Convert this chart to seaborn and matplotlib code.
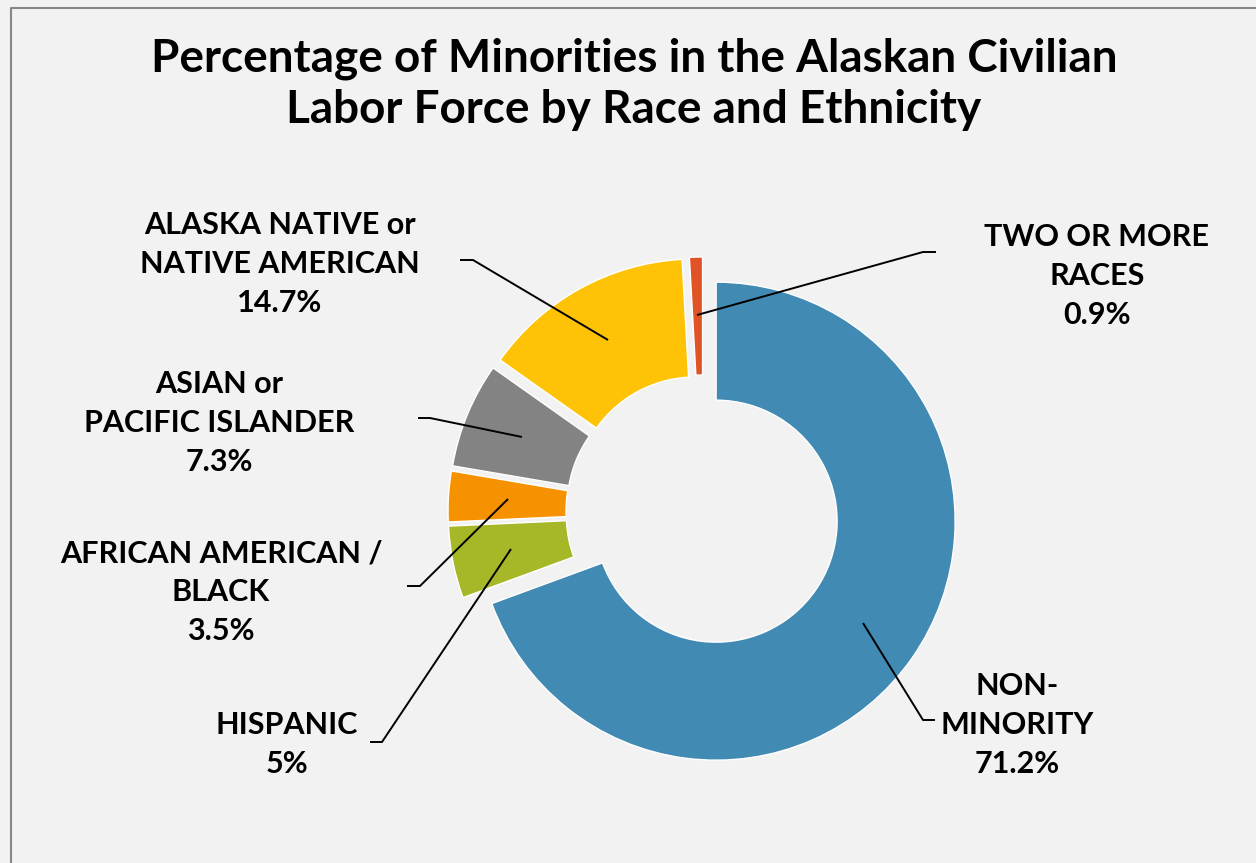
import matplotlib
matplotlib.use("Agg")
import matplotlib.pyplot as plt
import seaborn as sns

# ---- data -------------------------------------------------------------
categories = [
    "NON-\nMINORITY",
    "HISPANIC",
    "AFRICAN AMERICAN /\nBLACK",
    "ASIAN or\nPACIFIC ISLANDER",
    "ALASKA NATIVE or\nNATIVE AMERICAN",
    "TWO OR MORE\nRACES",
]
shares = [71.2, 5, 3.5, 7.3, 14.7, 0.9]
colors = ["#418AB3", "#A6B727", "#F69200", "#838383", "#FEC306", "#DF5327"]
title = "Percentage of Minorities in the Alaskan Civilian\nLabor Force by Race and Ethnicity"

# ---- layout (pixel space, y grows downward) ---------------------------
W, H = 1256, 863
center = (703, 512)
radius = 239
ring_width = 118
explode_px = 16
label_x = [1017, 287, 221, 219, 280, 1097]
label_first_baseline = [695, 734, 562, 393, 234, 246]
label_line_gap = 39
leaders = [
    [(863, 623), (923, 720), (935, 720)],
    [(511, 549), (382, 742), (370, 742)],
    [(508, 499), (420, 586), (407, 586)],
    [(522, 437), (430, 418), (418, 418)],
    [(608, 340), (473, 260), (460, 260)],
    [(697, 315), (923, 252), (936, 252)],
]

sns.set_theme(style="white")
plt.rcParams["font.family"] = ["Lato", "DejaVu Sans"]
bg = "#F2F2F2"

fig = plt.figure(figsize=(W / 100, H / 100), dpi=100, facecolor=bg)
ax = fig.add_axes([0, 0, 1, 1])
ax.set_facecolor(bg)

# Donut: y axis is inverted, so a counter-clockwise sweep from -90 in data
# space runs clockwise from 12 o'clock on screen.
ax.pie(
    shares,
    colors=colors,
    startangle=-90,
    counterclock=True,
    radius=radius,
    center=center,
    explode=[explode_px] * len(shares),
    wedgeprops=dict(width=ring_width, edgecolor="white", linewidth=1),
)
ax.set_xlim(0, W)
ax.set_ylim(H, 0)
ax.set_aspect("auto")
ax.axis("off")

# Leader lines and labels
for cat, val, x, y0, pts in zip(categories, shares, label_x, label_first_baseline, leaders):
    xs, ys = zip(*pts)
    ax.plot(xs, ys, color="black", lw=1.4, solid_capstyle="butt", zorder=5)
    lines = cat.split("\n") + [f"{val:g}%"]
    for i, line in enumerate(lines):
        ax.text(x, y0 + i * label_line_gap, line, ha="center", va="baseline",
                fontsize=22, fontweight="bold", color="black")

# Title
for i, line in enumerate(title.split("\n")):
    ax.text(634, 72 + i * 51, line, ha="center", va="baseline",
            fontsize=33, fontweight="bold", color="black")

# Chart-area border along left and top
ax.plot([11, 11, W + 5], [H + 5, 8, 8], color="#878787", lw=1.5, clip_on=False)

fig.savefig("out.png", dpi=100, facecolor=bg)
